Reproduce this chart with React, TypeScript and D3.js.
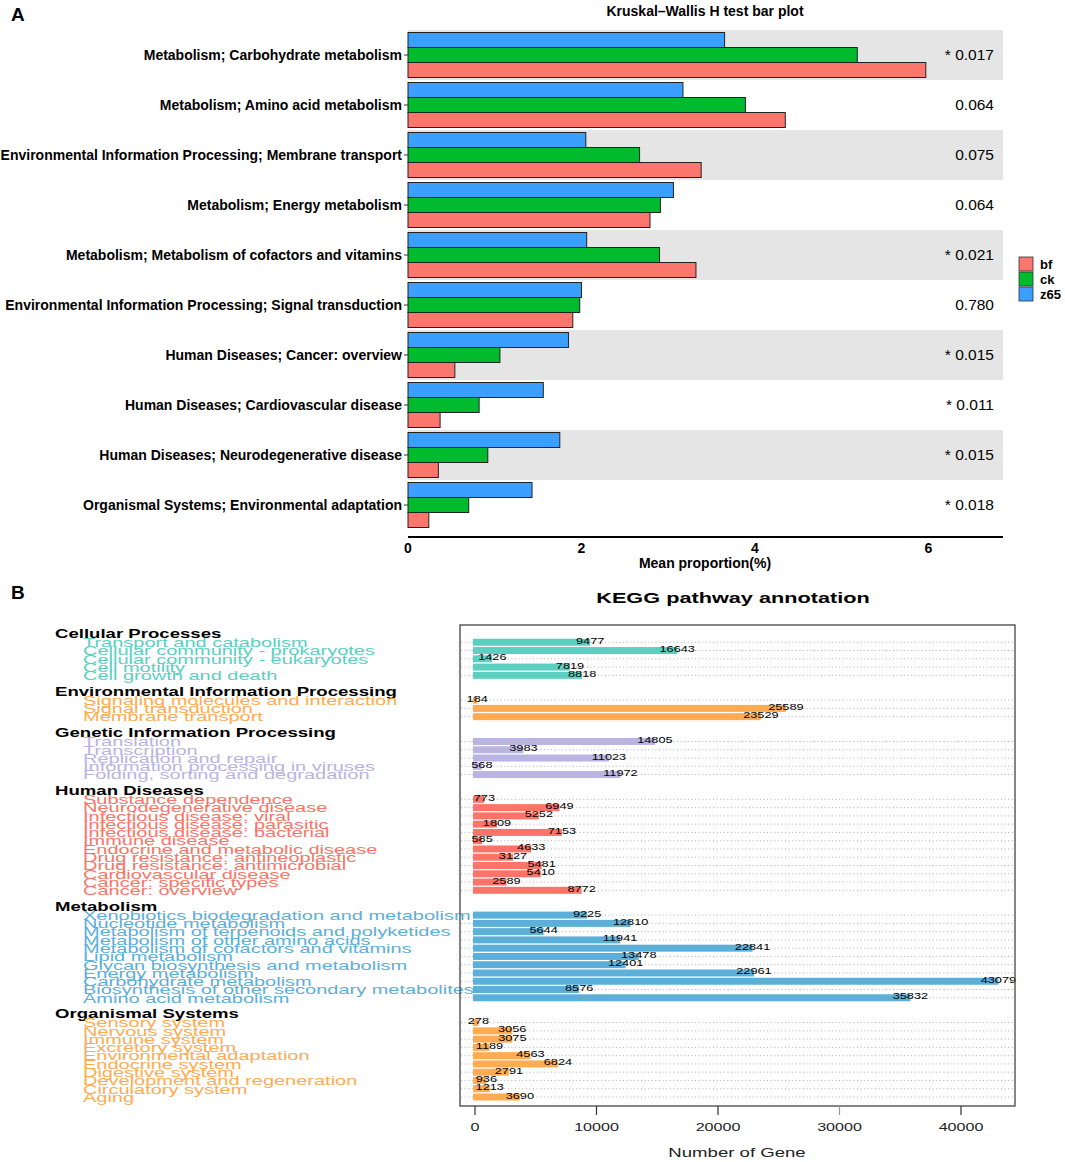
import * as React from "react";
import * as d3 from "d3";

// ---- panel A: Kruskal-Wallis bar plot ----
const pathwaysA = [
  "Metabolism; Carbohydrate metabolism",
  "Metabolism; Amino acid metabolism",
  "Environmental Information Processing; Membrane transport",
  "Metabolism; Energy metabolism",
  "Metabolism; Metabolism of cofactors and vitamins",
  "Environmental Information Processing; Signal transduction",
  "Human Diseases; Cancer: overview",
  "Human Diseases; Cardiovascular disease",
  "Human Diseases; Neurodegenerative disease",
  "Organismal Systems; Environmental adaptation",
];
const bfMeans = [5.97, 4.35, 3.38, 2.79, 3.32, 1.9, 0.54, 0.37, 0.35, 0.24];
const ckMeans = [5.18, 3.89, 2.67, 2.91, 2.9, 1.98, 1.06, 0.82, 0.92, 0.7];
const z65Means = [3.65, 3.17, 2.05, 3.06, 2.06, 2.0, 1.85, 1.56, 1.75, 1.43];
const pLabels = ["* 0.017", "0.064", "0.075", "0.064", "* 0.021", "0.780", "* 0.015", "* 0.011", "* 0.015", "* 0.018"];
const groupsA = ["bf", "ck", "z65"];
const ticksA = [0, 2, 4, 6];

// ---- panel B: KEGG pathway annotation ----
const keggLevel1 = [
  "Cellular Processes",
  "Environmental Information Processing",
  "Genetic Information Processing",
  "Human Diseases",
  "Metabolism",
  "Organismal Systems",
];
const cellularNames = [
  "Transport and catabolism",
  "Cellular community - prokaryotes",
  "Cellular community - eukaryotes",
  "Cell motility",
  "Cell growth and death",
];
const cellularGenes = [9477, 16643, 1426, 7819, 8818];
const environmentalNames = ["Signaling molecules and interaction", "Signal transduction", "Membrane transport"];
const environmentalGenes = [184, 25589, 23529];
const geneticNames = [
  "Translation",
  "Transcription",
  "Replication and repair",
  "Information processing in viruses",
  "Folding, sorting and degradation",
];
const geneticGenes = [14805, 3983, 11023, 568, 11972];
const humanNames = [
  "Substance dependence",
  "Neurodegenerative disease",
  "Infectious disease: viral",
  "Infectious disease: parasitic",
  "Infectious disease: bacterial",
  "Immune disease",
  "Endocrine and metabolic disease",
  "Drug resistance: antineoplastic",
  "Drug resistance: antimicrobial",
  "Cardiovascular disease",
  "Cancer: specific types",
  "Cancer: overview",
];
const humanGenes = [773, 6949, 5252, 1809, 7153, 585, 4633, 3127, 5481, 5410, 2589, 8772];
const metabolismNames = [
  "Xenobiotics biodegradation and metabolism",
  "Nucleotide metabolism",
  "Metabolism of terpenoids and polyketides",
  "Metabolism of other amino acids",
  "Metabolism of cofactors and vitamins",
  "Lipid metabolism",
  "Glycan biosynthesis and metabolism",
  "Energy metabolism",
  "Carbohydrate metabolism",
  "Biosynthesis of other secondary metabolites",
  "Amino acid metabolism",
];
const metabolismGenes = [9225, 12810, 5644, 11941, 22841, 13478, 12401, 22961, 43079, 8576, 35832];
const organismalNames = [
  "Sensory system",
  "Nervous system",
  "Immune system",
  "Excretory system",
  "Environmental adaptation",
  "Endocrine system",
  "Digestive system",
  "Development and regeneration",
  "Circulatory system",
  "Aging",
];
const organismalGenes = [278, 3056, 3075, 1189, 4563, 6824, 2791, 936, 1213, 3690];
const ticksB = [0, 10000, 20000, 30000, 40000];

const colorsA: Record<string, string> = { bf: "#fb766d", ck: "#00bb2d", z65: "#3a9fff" };
const sectionColors = ["#5bd0c1", "#ffab52", "#b9b4e2", "#fb7469", "#5cafd9", "#ffab52"];

const FONT = "'Liberation Sans', Arial, Helvetica, sans-serif";
const SX = 1.55; // panel B text is stretched horizontally

function Stretched({ x, y, size, children, fill = "#000", bold = false, anchor = "start", sx = SX }: any) {
  return (
    <text
      transform={`translate(${x},${y}) scale(${sx},1)`}
      fontSize={size}
      fontWeight={bold ? 700 : 400}
      fill={fill}
      textAnchor={anchor}
    >
      {children}
    </text>
  );
}

export default function App() {
  React.useEffect(() => {
    document.body.style.margin = "0";
  }, []);

  // panel A scales
  const xA = d3.scaleLinear().domain([0, 6.86]).range([408, 1003]);
  const yA = d3.scaleBand<string>().domain(pathwaysA).range([30, 530]);
  const yInner = d3.scaleBand<string>().domain(["z65", "ck", "bf"]).range([2.5, 47.5]);
  const meansBy: Record<string, number[]> = { bf: bfMeans, ck: ckMeans, z65: z65Means };

  // panel B layout: header slot, pathway slots, blank slot per section
  const sections = [
    { names: cellularNames, genes: cellularGenes },
    { names: environmentalNames, genes: environmentalGenes },
    { names: geneticNames, genes: geneticGenes },
    { names: humanNames, genes: humanGenes },
    { names: metabolismNames, genes: metabolismGenes },
    { names: organismalNames, genes: organismalGenes },
  ];
  const headers: { name: string; slot: number }[] = [];
  const rows: { name: string; value: number; color: string; slot: number }[] = [];
  let slot = 0;
  sections.forEach((s, si) => {
    headers.push({ name: keggLevel1[si], slot: slot++ });
    s.names.forEach((n, i) => rows.push({ name: n, value: s.genes[i], color: sectionColors[si], slot: slot++ }));
    slot++;
  });
  const lastSlot = slot - 2;
  const yB = d3.scaleLinear().domain([0, lastSlot]).range([634, 1097]);
  const xB = d3.scaleLinear().domain([0, 40000]).range([475, 961]);
  const barH = 7;

  return (
    <svg width={1065} height={1162} style={{ display: "block", background: "#fff" }} fontFamily={FONT}>
      {/* ================= A ================= */}
      <text x={11} y={21} fontSize={19} fontWeight={700}>A</text>
      <text x={705} y={16} fontSize={14} fontWeight={700} textAnchor="middle">
        Kruskal–Wallis H test bar plot
      </text>

      {pathwaysA.map((p, i) =>
        i % 2 === 0 ? (
          <rect key={p} x={408} y={yA(p)!} width={595} height={yA.bandwidth()} fill="#e5e5e5" />
        ) : null
      )}

      {pathwaysA.map((p, i) => (
        <g key={p} transform={`translate(0,${yA(p)})`}>
          {["z65", "ck", "bf"].map((g) => (
            <rect
              key={g}
              x={xA(0)}
              y={yInner(g)!}
              width={xA(meansBy[g][i]) - xA(0)}
              height={yInner.bandwidth()}
              fill={colorsA[g]}
              stroke="#222"
              strokeWidth={1}
            />
          ))}
          <line x1={404} x2={408} y1={25} y2={25} stroke="#333" />
          <text x={402} y={30} fontSize={14} fontWeight={700} textAnchor="end">
            {p}
          </text>
          <text x={994} y={30} fontSize={15.5} textAnchor="end">
            {pLabels[i]}
          </text>
        </g>
      ))}

      <line x1={408} x2={1003} y1={537} y2={537} stroke="#000" strokeWidth={2} />
      {ticksA.map((t) => (
        <text key={t} x={xA(t)} y={553} fontSize={14} fontWeight={700} textAnchor="middle">
          {t}
        </text>
      ))}
      <text x={705} y={568} fontSize={14} fontWeight={700} textAnchor="middle">
        Mean proportion(%)
      </text>

      {groupsA.map((g, i) => (
        <g key={g} transform={`translate(1019,${257 + i * 15})`}>
          <rect width={14} height={14} fill={colorsA[g]} stroke="#333" strokeWidth={0.8} />
          <text x={21} y={12} fontSize={13} fontWeight={700}>
            {g}
          </text>
        </g>
      ))}

      {/* ================= B ================= */}
      <text x={11} y={599} fontSize={19} fontWeight={700}>B</text>
      <Stretched x={733} y={603} size={14} bold anchor="middle">
        KEGG pathway annotation
      </Stretched>

      {rows.map((r) => (
        <line
          key={"g" + r.slot}
          x1={461}
          x2={1014}
          y1={yB(r.slot)}
          y2={yB(r.slot)}
          stroke="#9c9c9c"
          strokeWidth={0.8}
          strokeDasharray="1 2.6"
        />
      ))}
      {rows.map((r) => (
        <rect
          key={"b" + r.slot}
          x={xB(0) - 2}
          y={yB(r.slot) - barH / 2}
          width={xB(r.value) - xB(0) + 2}
          height={barH}
          fill={r.color}
        />
      ))}
      {rows.map((r) => (
        <Stretched key={"v" + r.slot} x={xB(r.value)} y={yB(r.slot) + 1.5} size={8.5} fill="#000" anchor="middle" sx={1.5}>
          {r.value}
        </Stretched>
      ))}

      {headers.map((h) => (
        <Stretched key={h.name} x={55} y={yB(h.slot) + 4} size={12} bold>
          {h.name}
        </Stretched>
      ))}
      {rows.map((r) => (
        <Stretched key={"l" + r.slot} x={83} y={yB(r.slot) + 4.8} size={13.5} fill={r.color} sx={1.48}>
          {r.name}
        </Stretched>
      ))}

      <rect x={460} y={625} width={555} height={481} fill="none" stroke="#444" strokeWidth={1.3} />
      {ticksB.map((t) => (
        <g key={t}>
          <line x1={xB(t)} x2={xB(t)} y1={1106} y2={1115} stroke={t === 30000 ? "#999" : "#333"} strokeWidth={1.2} />
          <Stretched x={xB(t)} y={1131} size={11.5} fill="#222" anchor="middle" sx={1.4}>
            {t}
          </Stretched>
        </g>
      ))}
      <Stretched x={737} y={1157} size={12} fill="#222" anchor="middle">
        Number of Gene
      </Stretched>
    </svg>
  );
}
